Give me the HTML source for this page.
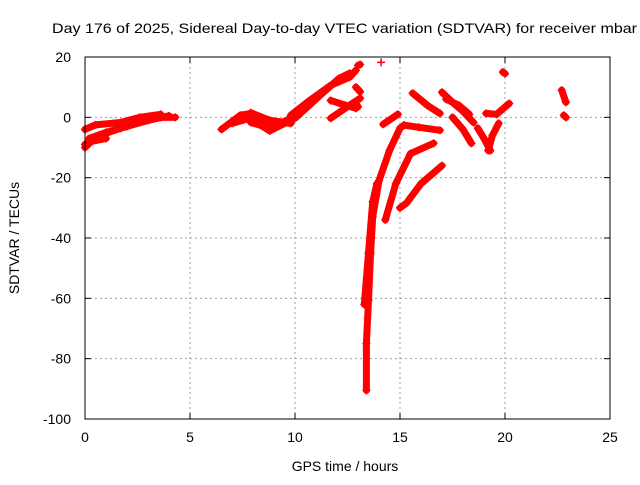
<!DOCTYPE html>
<html><head><meta charset="utf-8"><style>
body{margin:0;background:#fff}
text{font-family:"Liberation Sans",sans-serif;font-size:14px;fill:#000}
</style></head><body>
<svg id="chart" width="640" height="480" viewBox="0 0 640 480">
<rect width="640" height="480" fill="#fff"/>
<text x="52" y="33" textLength="585" lengthAdjust="spacingAndGlyphs">Day 176 of 2025, Sidereal Day-to-day VTEC variation (SDTVAR) for receiver mbar</text>
<text x="345" y="471" text-anchor="middle">GPS time / hours</text>
<text x="19" y="238" text-anchor="middle" transform="rotate(-90 19 238)">SDTVAR / TECUs</text>
<g id="grid"></g><g id="marks"></g><g id="axes"></g>
</svg>
<script>
const xTicks=[0,5,10,15,20,25];
const yTicks=[20,0,-20,-40,-60,-80,-100];
const tracks=[
[[0,-9],[0.7,-6],[1.7,-3.6],[2.6,-1.7],[3.6,0],[4.3,0]],
[[0,-4],[0.5,-2.5],[1.7,-1.7],[2.6,0],[3.6,1]],
[[0.2,-7],[1,-5],[2,-3],[3,-1],[4,0.5]],
[[0,-10],[0.3,-8],[1,-7]],
[[6.5,-4],[7.4,0.7],[7.9,1.3]],
[[7,-2],[8,0],[9,-3],[9.8,-1]],
[[7.9,-1.7],[8.8,-3.6],[9.8,-0.3]],
[[7.9,1.5],[8.8,-1],[9.8,-2]],
[[8,-1],[8.8,-4.5],[9.5,-2]],
[[9.8,0.7],[10.7,5.6],[11.7,10.6],[12.6,13.3],[12.9,15.6]],
[[10,-0.3],[11.2,7.3],[12.1,12.9],[12.6,14.6]],
[[11.7,5.6],[12.4,4],[12.9,3]],
[[11.7,-0.3],[12.6,4],[13.1,6.3]],
[[13,17.2],[13.1,17.5]],
[[14.1,18.2]],
[[12.9,10],[13.1,8.5]],
[[12.9,4.5],[13,3.5]],
[[14.2,-2.3],[14.9,1]],
[[13.4,-90.5],[13.4,-75],[13.5,-60.6],[13.6,-45],[13.7,-33],[14,-21],[14.5,-11],[15,-3.6],[15.2,-2.6]],
[[13.3,-62],[13.5,-45],[13.7,-28],[13.9,-22]],
[[15.2,-2.6],[15.9,-3.3],[16.9,-4.3]],
[[14.3,-34],[14.8,-22],[15.5,-12],[16.6,-8.6]],
[[15,-30],[15.3,-28.5],[16,-22],[17,-16]],
[[15.6,8],[16.3,4],[16.9,1.3]],
[[17,8.3],[17.5,5],[18,2],[18.5,-1.7]],
[[17.2,6],[17.8,4],[18.3,1]],
[[17.5,0],[18,-4],[18.4,-8.6]],
[[18.7,-3.6],[19,-7],[19.3,-11]],
[[19.7,-2],[19.4,-6],[19.2,-11]],
[[19.1,1.3],[19.6,1],[20.2,4.6]],
[[19.9,15],[20,14.5]],
[[22.7,9],[22.9,5]],
[[22.8,0.7],[22.9,0]]
];
const NS="http://www.w3.org/2000/svg";
const L=85,R=610,T=57,B=419;
function sx(v){return L+(v-0)/(25-0)*(R-L);}
function sy(v){return T+(20-v)/(120)*(B-T);}
function mk(tag,at,parent){const e=document.createElementNS(NS,tag);for(const k in at)e.setAttribute(k,at[k]);parent.appendChild(e);return e;}
const grid=document.getElementById('grid'),axes=document.getElementById('axes'),marks=document.getElementById('marks');
xTicks.forEach(v=>{
  const x=sx(v);
  if(v>0&&v<25){const g=mk('line',{x1:x,x2:x,y1:T,y2:B,stroke:'#a0a0a0','stroke-dasharray':'2,3'},grid);
  
  }
  mk('line',{x1:x,x2:x,y1:B,y2:B-6,stroke:'#000'},axes);
  mk('line',{x1:x,x2:x,y1:T,y2:T+6,stroke:'#000'},axes);
  const t=mk('text',{x:x,y:B+23,'text-anchor':'middle'},axes);t.textContent=v;
  
  
});
yTicks.forEach(v=>{
  const y=sy(v);
  if(v<20&&v>-100){const g=mk('line',{x1:L,x2:R,y1:y,y2:y,stroke:'#a0a0a0','stroke-dasharray':'2,3'},grid);
  
  }
  mk('line',{x1:L,x2:L+6,y1:y,y2:y,stroke:'#000'},axes);
  mk('line',{x1:R,x2:R-6,y1:y,y2:y,stroke:'#000'},axes);
  const t=mk('text',{x:L-14,y:y+5,'text-anchor':'end'},axes);t.textContent=v;
  
  
});
const frame=mk('rect',{x:L,y:T,width:R-L,height:B-T,fill:'none',stroke:'#000'},axes);


tracks.forEach(tr=>{
  if(tr.length>1){
    const p=mk('polyline',{points:tr.map(d=>sx(d[0])+','+sy(d[1])).join(' '),fill:'none',stroke:'#ff0000','stroke-width':7,'stroke-linejoin':'round','stroke-linecap':'round'},marks);
    
    
  }
  tr.forEach(d=>{
    const x=sx(d[0]),y=sy(d[1]);
    const m=mk('path',{d:`M${x-4},${y}H${x+4}M${x},${y-4}V${y+4}`,stroke:'#ff0000','stroke-width':1.5},marks);
    
    
  });
});
</script>
</body></html>
